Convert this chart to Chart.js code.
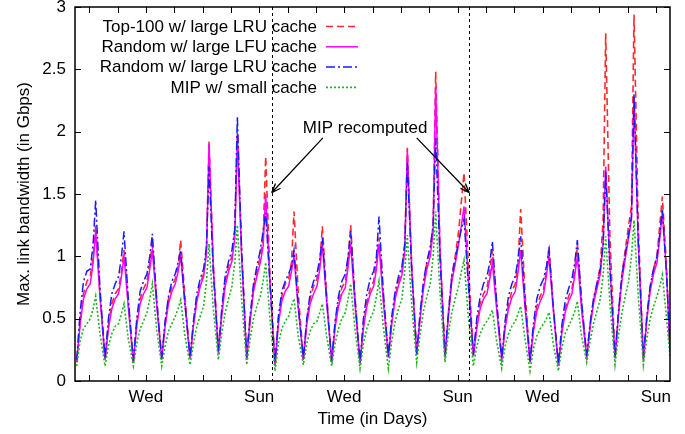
<!DOCTYPE html>
<html lang="en">
<head>
<meta charset="UTF-8">
<title>Max. link bandwidth</title>
<script src="https://cdn.jsdelivr.net/npm/chart.js"></script>
<style>
  html, body { margin: 0; padding: 0; background: #fff; }
  canvas { display: block; }
</style>
</head>
<body>
<canvas id="bw" width="685" height="434"></canvas>
<script>
// time axis: days, sampled 8 times per day (min near start of day, peak late evening)
const sampleOffsets = [0.06, 0.18, 0.30, 0.42, 0.54, 0.64, 0.73, 0.88];
const numDays = 21;

const tickDays = [0.5, 1.5, 2.5, 3.5, 4.5, 5.5, 6.5, 7.5, 8.5, 9.5, 10.5,
                  11.5, 12.5, 13.5, 14.5, 15.5, 16.5, 17.5, 18.5, 19.5, 20.5];
const tickLabels = ['', '', 'Wed', '', '', '', 'Sun', '', '', 'Wed', '',
                    '', '', 'Sun', '', '', 'Wed', '', '', '', 'Sun'];
const yTicks = [0, 0.5, 1, 1.5, 2, 2.5, 3];

const recomputeDays = [6.94, 13.92];

const seriesNames = [
  'Top-100 w/ large LRU cache',
  'Random w/ large LFU cache',
  'Random w/ large LRU cache',
  'MIP w/ small cache'
];

// Top-100 w/ large LRU cache
const top100Lru = [
  .15, .48, .70, .80, .84, 1.00, 1.25, .70,
  .17, .45, .62, .70, .74, .88, 1.05, .62,
  .15, .47, .66, .74, .80, .95, 1.10, .66,
  .17, .46, .66, .76, .82, .92, 1.13, .68,
  .18, .45, .66, .78, .86, 1.05, 1.92, .95,
  .24, .55, .80, .92, 1.00, 1.20, 2.00, 1.05,
  .18, .50, .75, .88, 1.00, 1.15, 1.80, .85,
  .12, .50, .68, .78, .82, .95, 1.36, .70,
  .17, .48, .66, .76, .82, .95, 1.24, .70,
  .15, .46, .64, .75, .80, .98, 1.25, .68,
  .14, .45, .63, .74, .80, .95, 1.15, .68,
  .19, .48, .68, .80, .88, 1.10, 1.87, .95,
  .21, .52, .78, .95, 1.05, 1.25, 2.48, 1.10,
  .19, .55, .85, 1.00, 1.20, 1.45, 1.67, .95,
  .20, .45, .62, .70, .75, .88, 1.05, .62,
  .17, .45, .62, .72, .78, .95, 1.38, .72,
  .15, .42, .60, .68, .74, .90, 1.08, .60,
  .12, .40, .58, .68, .74, .90, 1.10, .62,
  .19, .45, .65, .78, .92, 1.30, 2.79, 1.15,
  .18, .55, .85, 1.05, 1.25, 1.40, 2.94, 1.25,
  .17, .50, .75, .90, 1.00, 1.25, 1.48, .90,
  .25
];

// Random w/ large LFU cache
const randomLfu = [
  .15, .45, .66, .74, .78, .95, 1.20, .68,
  .17, .42, .58, .66, .70, .84, 1.00, .60,
  .15, .44, .62, .70, .75, .90, 1.05, .62,
  .17, .44, .62, .72, .78, .88, 1.00, .62,
  .18, .44, .64, .76, .84, 1.02, 1.90, .92,
  .22, .52, .76, .88, .96, 1.15, 1.95, 1.00,
  .18, .48, .72, .84, .95, 1.08, 1.50, .80,
  .12, .46, .64, .72, .76, .88, 1.00, .58,
  .17, .45, .62, .70, .76, .90, 1.10, .64,
  .15, .43, .60, .70, .75, .92, 1.10, .62,
  .14, .42, .60, .70, .76, .90, 1.10, .64,
  .19, .46, .66, .77, .85, 1.05, 1.85, .92,
  .21, .50, .74, .90, 1.00, 1.20, 2.36, 1.05,
  .19, .52, .80, .94, 1.10, 1.25, 1.40, .82,
  .20, .42, .58, .66, .70, .82, .95, .58,
  .17, .42, .58, .67, .72, .88, 1.05, .60,
  .15, .40, .56, .64, .70, .85, 1.00, .57,
  .12, .38, .55, .64, .70, .85, 1.00, .57,
  .19, .43, .62, .74, .86, 1.10, 1.72, .92,
  .18, .52, .80, .98, 1.15, 1.30, 2.28, 1.10,
  .17, .48, .72, .86, .95, 1.15, 1.35, .85,
  .25
];

// Random w/ large LRU cache
const randomLru = [
  .17, .55, .80, .88, .90, 1.10, 1.45, .75,
  .18, .50, .70, .78, .84, 1.00, 1.20, .66,
  .16, .50, .72, .80, .86, 1.00, 1.18, .66,
  .18, .48, .68, .80, .86, .95, 1.05, .62,
  .19, .48, .70, .82, .90, 1.08, 1.72, .88,
  .24, .58, .84, .96, 1.05, 1.22, 2.12, 1.05,
  .19, .52, .78, .92, 1.05, 1.20, 1.35, .78,
  .14, .52, .72, .80, .86, .92, 1.05, .60,
  .18, .50, .70, .80, .86, .98, 1.15, .66,
  .16, .48, .68, .80, .86, 1.00, 1.20, .66,
  .15, .50, .70, .82, .88, 1.00, 1.32, .72,
  .20, .52, .72, .84, .92, 1.10, 1.75, .90,
  .22, .55, .80, .96, 1.08, 1.25, 1.95, 1.00,
  .20, .55, .84, .98, 1.12, 1.22, 1.30, .78,
  .21, .50, .68, .78, .84, .95, 1.12, .64,
  .18, .48, .68, .78, .84, .98, 1.16, .65,
  .16, .46, .66, .76, .82, .92, 1.05, .60,
  .14, .44, .64, .74, .82, .95, 1.13, .64,
  .20, .46, .66, .78, .90, 1.10, 1.68, .90,
  .19, .55, .84, 1.02, 1.18, 1.32, 2.30, 1.12,
  .18, .52, .76, .90, 1.00, 1.18, 1.38, .85,
  .26
];

// MIP w/ small cache
const mipSmall = [
  .12, .32, .42, .46, .50, .58, .68, .38,
  .12, .28, .38, .44, .46, .54, .62, .34,
  .12, .30, .42, .48, .55, .66, .78, .42,
  .12, .28, .40, .46, .52, .58, .65, .36,
  .13, .30, .44, .52, .60, .80, 1.10, .58,
  .17, .38, .55, .66, .76, .95, 1.25, .66,
  .13, .34, .50, .60, .68, .80, .95, .50,
  .08, .30, .42, .48, .52, .60, .66, .36,
  .13, .30, .40, .46, .48, .55, .62, .36,
  .12, .30, .42, .50, .55, .66, .78, .42,
  .10, .30, .42, .50, .56, .68, .80, .44,
  .10, .32, .48, .58, .66, .88, 1.17, .62,
  .15, .38, .56, .68, .78, 1.00, 1.36, .72,
  .15, .38, .55, .66, .76, .88, .97, .52,
  .12, .28, .38, .44, .48, .52, .57, .32,
  .10, .28, .38, .44, .48, .54, .60, .34,
  .08, .26, .36, .42, .46, .50, .55, .30,
  .08, .26, .38, .44, .50, .56, .64, .36,
  .15, .32, .46, .56, .66, .85, 1.16, .62,
  .13, .36, .54, .68, .80, 1.00, 1.29, .68,
  .13, .34, .50, .60, .68, .76, .85, .50,
  .20
];

const times = [];
for (let d = 0; d < numDays; d++) {
  sampleOffsets.forEach(o => times.push(d + o));
}
times.push(numDays);

function toPoints(vals) {
  return times.map((t, i) => ({ x: t, y: vals[i] }));
}

const FONT = { family: '"Liberation Sans", Arial, Helvetica, sans-serif', size: 17 };

const styles = [
  { color: '#ff2a2a', dash: [7, 4], width: 1.6 },
  { color: '#ff00ff', dash: [], width: 1.5 },
  { color: '#1a1aff', dash: [9, 3, 2, 3], width: 1.5 },
  { color: '#1fb51f', dash: [2, 2], width: 1.6 }
];

const decor = {
  id: 'decor',
  afterDatasetsDraw(chart) {
    const { ctx, chartArea: a, scales: { x, y } } = chart;
    ctx.save();

    // MIP recompute markers
    ctx.strokeStyle = '#000';
    ctx.lineWidth = 1;
    ctx.setLineDash([3, 3]);
    recomputeDays.forEach(d => {
      const px = Math.round(x.getPixelForValue(d)) + 0.5;
      ctx.beginPath();
      ctx.moveTo(px, a.top);
      ctx.lineTo(px, a.bottom);
      ctx.stroke();
    });
    ctx.setLineDash([]);

    // inward ticks, gnuplot style
    const tl = 6;
    ctx.lineWidth = 1;
    ctx.beginPath();
    x.ticks.forEach(t => {
      const px = Math.round(x.getPixelForValue(t.value)) + 0.5;
      ctx.moveTo(px, a.bottom); ctx.lineTo(px, a.bottom - tl);
      ctx.moveTo(px, a.top); ctx.lineTo(px, a.top + tl);
    });
    y.ticks.forEach(t => {
      const py = Math.round(y.getPixelForValue(t.value)) + 0.5;
      ctx.moveTo(a.left, py); ctx.lineTo(a.left + tl, py);
      ctx.moveTo(a.right, py); ctx.lineTo(a.right - tl, py);
    });
    ctx.stroke();

    // frame
    ctx.lineWidth = 1.5;
    ctx.strokeRect(a.left, a.top, a.right - a.left, a.bottom - a.top);

    // annotation
    ctx.fillStyle = '#000';
    ctx.font = FONT.size + 'px ' + FONT.family;
    ctx.textAlign = 'center';
    ctx.textBaseline = 'middle';
    ctx.fillText('MIP recomputed', x.getPixelForValue(10.24), y.getPixelForValue(2.03));
    const arrow = (x1, y1, x2, y2) => {
      const ang = Math.atan2(y2 - y1, x2 - x1);
      ctx.beginPath();
      ctx.moveTo(x1, y1); ctx.lineTo(x2, y2);
      ctx.moveTo(x2, y2);
      ctx.lineTo(x2 - 10 * Math.cos(ang - 0.35), y2 - 10 * Math.sin(ang - 0.35));
      ctx.moveTo(x2, y2);
      ctx.lineTo(x2 - 10 * Math.cos(ang + 0.35), y2 - 10 * Math.sin(ang + 0.35));
      ctx.stroke();
    };
    ctx.lineWidth = 1.3;
    arrow(x.getPixelForValue(8.75), y.getPixelForValue(1.95),
          x.getPixelForValue(recomputeDays[0]), y.getPixelForValue(1.51));
    arrow(x.getPixelForValue(12.06), y.getPixelForValue(1.95),
          x.getPixelForValue(recomputeDays[1]), y.getPixelForValue(1.51));

    // key: right-aligned text with line sample after it
    ctx.textAlign = 'right';
    const keyX = a.left + 242, rowY = a.top + 20, rowH = 20.3;
    seriesNames.forEach((name, i) => {
      const ry = rowY + i * rowH;
      ctx.fillStyle = '#000';
      ctx.fillText(name, keyX, ry);
      ctx.strokeStyle = styles[i].color;
      ctx.lineWidth = styles[i].width;
      ctx.setLineDash(styles[i].dash);
      ctx.beginPath();
      ctx.moveTo(keyX + 9, ry - 0.5);
      ctx.lineTo(keyX + 41, ry - 0.5);
      ctx.stroke();
      ctx.setLineDash([]);
    });

    ctx.restore();
  }
};

const allSeries = [top100Lru, randomLfu, randomLru, mipSmall];

new Chart(document.getElementById('bw').getContext('2d'), {
  type: 'line',
  data: {
    datasets: allSeries.map((vals, i) => ({
      label: seriesNames[i],
      data: toPoints(vals),
      borderColor: styles[i].color,
      borderDash: styles[i].dash,
      borderWidth: styles[i].width,
      pointRadius: 0,
      tension: 0,
      fill: false,
      order: 4 - i
    }))
  },
  options: {
    responsive: false,
    animation: false,
    layout: { padding: { top: 7, right: 15, left: 0, bottom: 0 } },
    plugins: { legend: { display: false }, tooltip: { enabled: false } },
    scales: {
      x: {
        type: 'linear',
        min: 0,
        max: numDays,
        afterBuildTicks: s => { s.ticks = tickDays.map(v => ({ value: v })); },
        afterFit: s => { s.height = 53; s.paddingLeft = 0; s.paddingRight = 0; },
        ticks: {
          autoSkip: false,
          maxRotation: 0,
          padding: 6,
          color: '#000',
          font: FONT,
          callback: (v, i) => tickLabels[i]
        },
        grid: { drawOnChartArea: false, drawTicks: false },
        border: { display: false },
        title: { display: true, text: 'Time (in Days)', color: '#000', font: FONT, padding: { top: 0, bottom: 4 } }
      },
      y: {
        min: 0,
        max: 3,
        afterBuildTicks: s => { s.ticks = yTicks.map(v => ({ value: v })); },
        afterFit: s => { s.width = 75; s.paddingTop = 0; s.paddingBottom = 0; },
        ticks: {
          padding: 9,
          color: '#000',
          font: FONT,
          callback: v => String(v)
        },
        grid: { drawOnChartArea: false, drawTicks: false },
        border: { display: false },
        title: { display: true, text: 'Max. link bandwidth (in Gbps)', color: '#000', font: FONT, padding: { top: 14, bottom: 0 } }
      }
    }
  },
  plugins: [decor]
});
</script>
</body>
</html>
